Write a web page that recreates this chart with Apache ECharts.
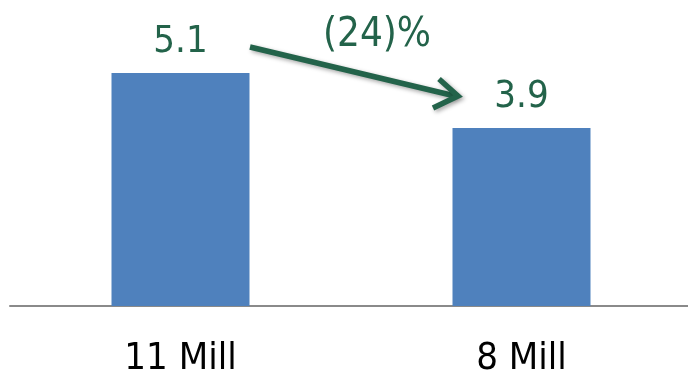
<!DOCTYPE html>
<html lang="en">
<head>
    <meta charset="UTF-8">
    <title>Mill comparison</title>
    <script src="https://cdn.jsdelivr.net/npm/echarts@6.0.0/dist/echarts.min.js"></script>
    <style>
        html, body { margin: 0; padding: 0; background: #fff; }
    </style>
</head>
<body>
    <div id="main" style="width: 688px; height: 373px;"></div>
    <script type="text/javascript">
        // data
        const categories = ['11 Mill', '8 Mill'];
        const values = [5.1, 3.9];

        const green = '#23634a';
        const font = '"DejaVu Sans Condensed", "DejaVu Sans", sans-serif';

        // change between the two bars, shown in accounting style
        const pct = Math.round((values[1] / values[0] - 1) * 100);
        const pctText = pct < 0 ? '(' + Math.abs(pct) + ')%' : pct + '%';

        let myChart = echarts.init(document.getElementById('main'));

        let options = {
            animation: false,
            grid: { left: 10, top: 32, width: 682, height: 274, containLabel: false, outerBoundsMode: 'none' },
            xAxis: {
                type: 'category',
                data: categories,
                axisTick: { show: false },
                axisLine: { lineStyle: { color: '#8a8a8a', width: 2 } },
                axisLabel: { color: '#000', fontFamily: font, fontSize: 38, margin: 34 }
            },
            yAxis: {
                type: 'value',
                min: 0,
                max: 6,
                show: false
            },
            series: [{
                type: 'bar',
                data: values,
                barWidth: 138,
                itemStyle: { color: '#4f81bd' },
                label: {
                    show: true,
                    position: 'top',
                    distance: 12,
                    color: green,
                    fontFamily: font,
                    fontSize: 38
                }
            }],
            graphic: [
                {
                    type: 'line',
                    shape: { x1: 250, y1: 47, x2: 455, y2: 96 },
                    style: { stroke: green, lineWidth: 5.5, shadowBlur: 4, shadowOffsetX: 2, shadowOffsetY: 2, shadowColor: 'rgba(0,0,0,0.35)' }
                },
                {
                    type: 'polyline',
                    shape: { points: [[439, 79], [458, 96], [433, 108]] },
                    style: { stroke: green, lineWidth: 5.5, fill: null, lineJoin: 'miter', shadowBlur: 4, shadowOffsetX: 2, shadowOffsetY: 2, shadowColor: 'rgba(0,0,0,0.35)' }
                },
                {
                    type: 'text',
                    left: 323,
                    top: 16,
                    style: { text: pctText, fill: green, font: '40px ' + font }
                }
            ]
        };

        myChart.setOption(options);
    </script>
</body>
</html>
